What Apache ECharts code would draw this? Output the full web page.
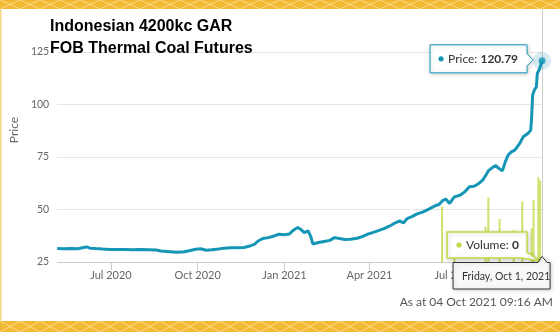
<!DOCTYPE html>
<html>
<head>
<meta charset="utf-8">
<script src="https://cdn.jsdelivr.net/npm/echarts@6/dist/echarts.min.js"></script>
<style>
  html, body { margin: 0; padding: 0; background: #ffffff; }
  #chart { width: 560px; height: 332px; }
</style>
</head>
<body>
<div id="chart"></div>
<script>
// ---- chart data ----
const titleLines = ['Indonesian 4200kc GAR', 'FOB Thermal Coal Futures'];
const footerText = 'As at 04 Oct 2021 09:16 AM';
const yAxisName = 'Price';
const priceName = 'Price';
const volumeName = 'Volume';

const priceDates = [
  '2020-05-05','2020-05-12','2020-05-19','2020-05-27','2020-06-02','2020-06-05','2020-06-09','2020-06-15',
  '2020-06-22','2020-06-30','2020-07-08','2020-07-16','2020-07-24','2020-08-01','2020-08-10','2020-08-18',
  '2020-08-23','2020-08-30','2020-09-05','2020-09-10','2020-09-17','2020-09-23','2020-09-29','2020-10-04',
  '2020-10-10','2020-10-16','2020-10-23','2020-10-29','2020-11-05','2020-11-12','2020-11-19','2020-11-25',
  '2020-11-30','2020-12-04','2020-12-09','2020-12-15','2020-12-21','2020-12-26','2021-01-01','2021-01-06',
  '2021-01-10','2021-01-15','2021-01-18','2021-01-22','2021-01-26','2021-01-29','2021-01-31','2021-02-06',
  '2021-02-12','2021-02-18','2021-02-23','2021-02-28','2021-03-06','2021-03-12','2021-03-19','2021-03-25',
  '2021-03-31','2021-04-06','2021-04-12','2021-04-17','2021-04-24','2021-04-29','2021-05-03','2021-05-07',
  '2021-05-11','2021-05-16','2021-05-21','2021-05-28','2021-06-03','2021-06-09','2021-06-14','2021-06-18',
  '2021-06-21','2021-06-25','2021-06-30','2021-07-06','2021-07-11','2021-07-16','2021-07-21','2021-07-26',
  '2021-07-30','2021-08-02','2021-08-05','2021-08-10','2021-08-13','2021-08-16','2021-08-20','2021-08-23',
  '2021-08-26','2021-08-29','2021-09-02','2021-09-05','2021-09-08','2021-09-11','2021-09-16','2021-09-19',
  '2021-09-20','2021-09-21','2021-09-23','2021-09-25','2021-09-26','2021-09-28','2021-10-01'
];
const priceValues = [
  31.4, 31.3, 31.4, 31.3, 31.9, 32.2, 31.6, 31.4,
  31.2, 31.0, 30.9, 30.9, 30.8, 30.9, 30.8, 30.7,
  30.2, 30.0, 29.8, 29.6, 29.9, 30.5, 31.1, 31.3,
  30.6, 30.8, 31.2, 31.6, 31.8, 31.8, 31.9, 32.6,
  33.4, 35.0, 36.2, 36.6, 37.4, 38.2, 38.0, 38.3,
  40.0, 41.4, 40.6, 39.0, 39.8, 37.0, 33.6, 34.3,
  34.8, 35.3, 36.6, 36.2, 35.7, 35.8, 36.3, 37.2,
  38.4, 39.2, 40.2, 41.0, 42.5, 43.8, 44.6, 43.6,
  45.7, 46.6, 47.8, 48.9, 50.2, 51.6, 52.5, 54.4,
  55.0, 52.9, 56.0, 56.8, 58.4, 60.8, 61.1, 62.4,
  64.0, 66.0, 68.4, 70.2, 70.9, 69.6, 68.4, 72.7,
  75.9, 77.3, 78.3, 80.0, 82.0, 84.6, 86.2, 87.8,
  94.2, 104.5, 107.0, 108.5, 114.9, 116.5, 120.79
];

const volumeDates = [
  '2021-06-17','2021-06-30','2021-08-02','2021-08-05','2021-08-17','2021-09-01',
  '2021-09-10','2021-09-20','2021-09-22','2021-09-27','2021-09-29','2021-10-01'
];
const volumeValues = [66, 29, 42, 77, 51, 38, 72, 40, 74, 101, 97, 0];

const xTickDates = ['2020-07-01', '2020-10-01', '2021-01-01', '2021-04-01', '2021-07-01'];
const monthNames = ['Jan','Feb','Mar','Apr','May','Jun','Jul','Aug','Sep','Oct','Nov','Dec'];
const dayNames = ['Sunday','Monday','Tuesday','Wednesday','Thursday','Friday','Saturday'];
const xRange = ['2020-05-05', '2021-10-02'];
const yRange = { min: 25, max: 145, interval: 25 };
const volumeMax = 300;

// ---- helpers ----
function ts(s) {
  const p = s.split('-').map(Number);
  return new Date(p[0], p[1] - 1, p[2]).getTime();
}
const priceData = priceDates.map((d, i) => [ts(d), priceValues[i]]);
const volumeData = volumeDates.map((d, i) => [ts(d), volumeValues[i]]);
const lastIdx = priceData.length - 1;
const lastPoint = priceData[lastIdx];
const tickValues = xTickDates.map(ts);

const LINE = '#1596b6';
const VOL = '#c3d947';
const GOLD = '#f2b935';
const FONT = 'Lato, "Open Sans", sans-serif';

const chart = echarts.init(document.getElementById('chart'), null, { renderer: 'canvas' });

chart.setOption({
  animation: false,
  backgroundColor: '#ffffff',
  title: {
    text: titleLines.join('\n'),
    left: 50,
    top: 16,
    padding: 0,
    textStyle: {
      fontFamily: '"Liberation Sans", Arial, sans-serif',
      fontWeight: 'bold',
      fontSize: 16,
      lineHeight: 22,
      color: '#000000',
      textShadowColor: 'rgba(235,150,30,0.35)',
      textShadowOffsetX: -0.7,
      textShadowBlur: 0
    }
  },
  grid: { left: 43, right: 17, top: 10, bottom: 70, containLabel: false },
  xAxis: {
    type: 'value',
    min: ts(xRange[0]),
    max: ts(xRange[1]),
    axisLine: { show: true, onZero: false, lineStyle: { color: '#cccccc', width: 1 } },
    axisTick: {
      show: true, length: 8, lineStyle: { color: '#cccccc' },
      customValues: tickValues
    },
    axisLabel: {
      customValues: tickValues,
      formatter: function (v) {
        const d = new Date(v);
        return monthNames[d.getMonth()] + ' ' + d.getFullYear();
      },
      color: '#666666', fontFamily: FONT, fontSize: 11, margin: 8
    },
    splitLine: { show: false }
  },
  yAxis: [
    {
      type: 'value',
      min: yRange.min, max: yRange.max, interval: yRange.interval,
      name: yAxisName,
      nameLocation: 'middle',
      nameGap: 26,
      nameTextStyle: { color: '#666666', fontFamily: FONT, fontSize: 12, padding: [0, 0, 0, 12] },
      axisLine: { show: false },
      axisTick: { show: false },
      axisLabel: {
        color: '#666666', fontFamily: FONT, fontSize: 10.5, margin: 8,
        showMaxLabel: false,
        padding: [0, 0, 8, 0]
      },
      splitLine: {
        show: true,
        lineStyle: { color: ['#cccccc', '#e6e6e6', '#e6e6e6', '#e6e6e6', '#e6e6e6', 'rgba(0,0,0,0)'], width: 1 }
      }
    },
    {
      type: 'value', min: 0, max: volumeMax, show: false,
      splitLine: { show: false }
    }
  ],
  series: [
    {
      name: volumeName,
      type: 'bar',
      yAxisIndex: 1,
      data: volumeData,
      barWidth: 2,
      itemStyle: { color: VOL, opacity: 0.8 },
      z: 1
    },
    {
      name: priceName,
      type: 'line',
      data: priceData,
      showSymbol: false,
      symbol: 'none',
      lineStyle: { color: LINE, width: 3 },
      z: 3
    },
    {
      type: 'scatter',
      data: [
        { value: lastPoint, symbolSize: 18, itemStyle: { color: 'rgba(21,150,182,0.22)' } },
        { value: lastPoint, symbolSize: 7, itemStyle: { color: LINE } }
      ],
      z: 4,
      silent: true
    }
  ]
});

// ---- frame, crosshair and hover boxes, placed from axis coordinates ----
function lattice(y0, h) {
  const a = [], b = [];
  for (let x = -20, k = 0; x <= 600; x += 20, k++) {
    a.push([x, k % 2 ? y0 + h : y0]);
    b.push([x, k % 2 ? y0 : y0 + h]);
  }
  const st = { stroke: 'rgba(255,232,160,0.75)', lineWidth: 1, fill: null };
  return [
    { type: 'polyline', shape: { points: a }, style: st, z: 51, silent: true },
    { type: 'polyline', shape: { points: b }, style: st, z: 51, silent: true }
  ];
}

const P = chart.convertToPixel({ xAxisIndex: 0, yAxisIndex: 0 }, lastPoint);
const lastVol = volumeData[volumeData.length - 1];
const V = chart.convertToPixel({ xAxisIndex: 0, yAxisIndex: 1 }, lastVol);
const gridTop = chart.convertToPixel({ yAxisIndex: 0 }, yRange.max);
const gridBottom = chart.convertToPixel({ yAxisIndex: 0 }, yRange.min);

const lastDate = new Date(lastPoint[0]);
const dateText = dayNames[lastDate.getDay()] + ', ' + monthNames[lastDate.getMonth()] + ' ' +
  lastDate.getDate() + ', ' + lastDate.getFullYear();

const shadow = { shadowBlur: 4, shadowColor: 'rgba(0,0,0,0.18)', shadowOffsetX: 1, shadowOffsetY: 1 };

// price box
const pL = P[0] - 112, pR = P[0] - 15, pT = P[1] - 16, pB = P[1] + 12;
// volume box
const vL = V[0] - 95, vR = V[0] - 15, vT = V[1] - 30, vB = V[1] - 4;
// date box
const dL = V[0] - 89, dR = V[0] + 8, dT = gridBottom + 0.5, dB = gridBottom + 27;

const graphics = [
  { type: 'rect', shape: { x: 0, y: 0, width: 560, height: 9 }, style: { fill: GOLD }, z: 50, silent: true },
  ...lattice(0, 9),
  { type: 'rect', shape: { x: 0, y: 321, width: 560, height: 11 }, style: { fill: GOLD }, z: 50, silent: true },
  ...lattice(321, 11),
  { type: 'rect', shape: { x: 0, y: 9, width: 1.5, height: 312 }, style: { fill: '#f6d68a' }, z: 50, silent: true },

  { type: 'line', shape: { x1: P[0] + 0.5, y1: gridTop - 1, x2: P[0] + 0.5, y2: gridBottom },
    style: { stroke: '#cccccc', lineWidth: 1 }, z: 0, silent: true },

  { type: 'polygon', z: 60, silent: true,
    shape: { points: [[pL, pT], [pR, pT], [pR, P[1] - 7], [P[0] - 9, P[1] - 1], [pR, P[1] + 5], [pR, pB], [pL, pB]] },
    style: Object.assign({ fill: '#ffffff', stroke: LINE, lineWidth: 1 }, shadow) },
  { type: 'circle', z: 61, silent: true, shape: { cx: pL + 11, cy: (pT + pB) / 2, r: 2.6 }, style: { fill: LINE } },
  { type: 'text', z: 61, silent: true,
    style: {
      x: pL + 18, y: (pT + pB) / 2,
      text: '{a|' + priceName + ': }{b|' + lastPoint[1].toFixed(2) + '}',
      textVerticalAlign: 'middle',
      rich: {
        a: { fill: '#333333', fontFamily: FONT, fontSize: 12 },
        b: { fill: '#333333', fontFamily: FONT, fontSize: 12, fontWeight: 'bold' }
      }
    } },

  { type: 'polygon', z: 60, silent: true,
    shape: { points: [[vL, vT], [vR, vT], [vR, vB - 6], [V[0] - 2, V[1] - 1], [vR - 6, vB], [vL, vB]] },
    style: Object.assign({ fill: '#ffffff', stroke: VOL, lineWidth: 1.5 }, shadow) },
  { type: 'circle', z: 61, silent: true, shape: { cx: vL + 12, cy: (vT + vB) / 2, r: 2.6 }, style: { fill: VOL } },
  { type: 'text', z: 61, silent: true,
    style: {
      x: vL + 19, y: (vT + vB) / 2,
      text: '{a|' + volumeName + ': }{b|' + lastVol[1] + '}',
      textVerticalAlign: 'middle',
      rich: {
        a: { fill: '#333333', fontFamily: FONT, fontSize: 12 },
        b: { fill: '#333333', fontFamily: FONT, fontSize: 12, fontWeight: 'bold' }
      }
    } },

  { type: 'polygon', z: 62, silent: true,
    shape: { points: [[dL, dT], [V[0] - 4, dT], [V[0], dT - 6], [V[0] + 5, dT], [dR, dT], [dR, dB], [dL, dB]] },
    style: Object.assign({ fill: '#f8f8f8', stroke: '#333333', lineWidth: 1 }, shadow) },
  { type: 'text', z: 63, silent: true,
    style: {
      x: dL + 9, y: (dT + dB) / 2 + 1, text: dateText,
      fill: '#333333', fontFamily: FONT, fontSize: 10.5, textVerticalAlign: 'middle'
    } },

  { type: 'text', z: 40, silent: true,
    style: {
      x: 553, y: 302, text: footerText, fill: '#555555', fontFamily: FONT, fontSize: 12,
      textAlign: 'right', textVerticalAlign: 'middle'
    } }
];

chart.setOption({ graphic: graphics });
</script>
</body>
</html>
